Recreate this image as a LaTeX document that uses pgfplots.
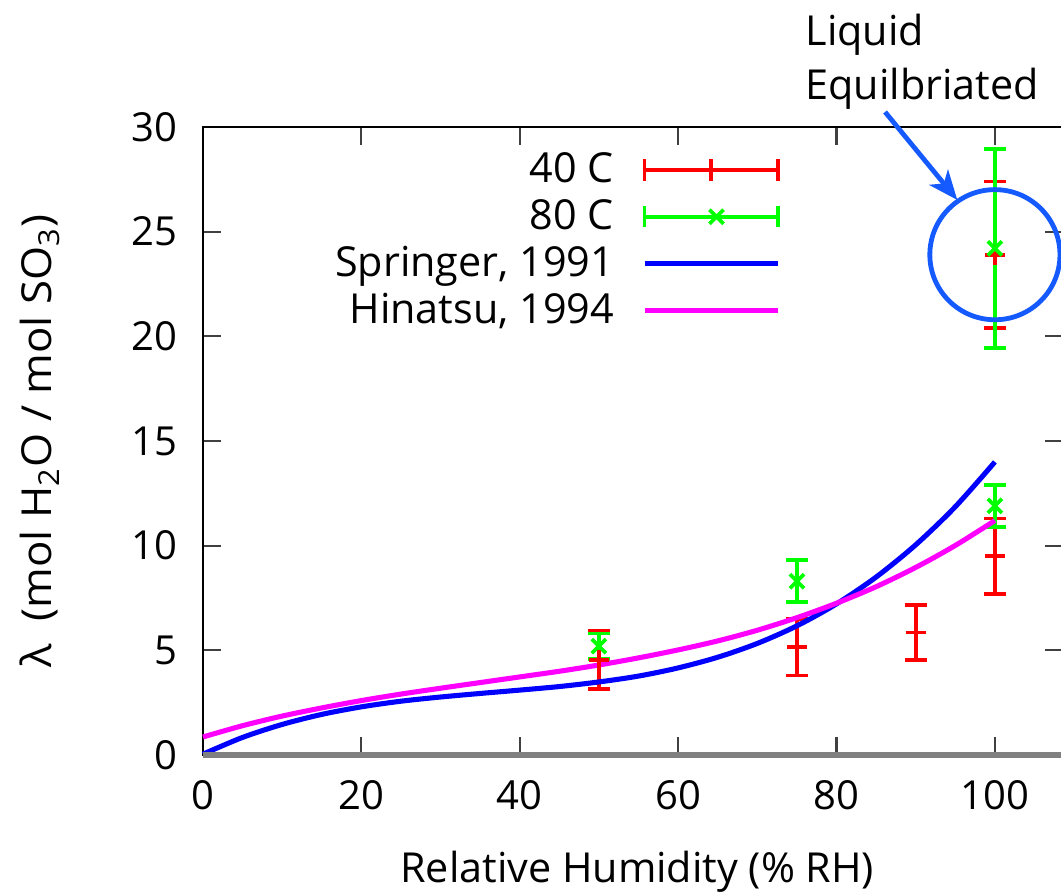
\documentclass[border=0pt]{standalone}
\usepackage{graphicx}
\usepackage{pgfplots}
\pgfplotsset{compat=1.18}
\usepackage{fontspec}
\setmainfont{Open Sans}
\usetikzlibrary{arrows.meta}
\definecolor{annot}{RGB}{20,90,255}
\definecolor{cred}{RGB}{255,0,0}
\definecolor{cgreen}{RGB}{0,255,0}
\definecolor{cblue}{RGB}{0,0,255}
\definecolor{cmag}{RGB}{255,0,255}

\pgfplotstableread{
x y e
50 4.55 1.40
75 5.15 1.35
90 5.85 1.30
100 9.5 1.80
100 23.9 3.50
}\redtab
\pgfplotstableread{
x y e
50 5.2 0.6
75 8.3 1.0
100 11.9 1.0
100 24.2 4.75
}\greentab
\pgfplotstableread{
x y
0 0.04
5 0.84
10 1.46
15 1.94
20 2.30
25 2.57
30 2.77
35 2.94
40 3.10
45 3.27
50 3.49
55 3.77
60 4.16
65 4.67
70 5.33
75 6.17
80 7.22
85 8.50
90 10.04
95 11.86
100 14.0
}\springtab
\pgfplotstableread{
x y
0 0.86
5 1.40
10 1.86
15 2.25
20 2.60
25 2.91
30 3.19
35 3.46
40 3.73
45 4.00
50 4.30
55 4.64
60 5.02
65 5.45
70 5.96
75 6.56
80 7.25
85 8.04
90 8.96
95 10.01
100 11.20
}\hintab

\begin{document}
\begin{tikzpicture}
\useasboundingbox (0pt,0pt) rectangle (397.875pt,334.5pt);
\begin{axis}[
  at={(76.125pt,51.375pt)}, anchor=south west,
  scale only axis, width=322.5pt, height=235.5pt,
  xmin=0, xmax=108.6, ymin=0, ymax=30,
  xtick={0,20,...,100}, ytick={0,5,...,30},
  axis line style={line width=1.1pt, black},
  major tick length=6.75pt,
  tick style={line width=0.8pt, black!75},
  tick align=inside,
  /pgf/number format/assume math mode=true,
  tick label style={font=\fontsize{15}{18}\selectfont},
  yticklabel style={xshift=-6pt},
  xticklabel style={yshift=-6pt},
  label style={font=\fontsize{15.5}{18}\selectfont},
  xlabel={Relative Humidity (\% RH)},
  ylabel={\scalebox{1.06}[1]{λ\ \ (mol H\textsubscript{2}O / mol SO\textsubscript{3})}},
  xlabel style={at={(axis description cs:0.505,-0.186)}, anchor=center},
  ylabel style={at={(axis description cs:-0.19,0.5)}, anchor=center},
  legend style={draw=none, fill=none, at={(axis description cs:0.672,0.968)}, anchor=north east,
    font=\fontsize{15.5}{18}\selectfont, inner sep=0pt, row sep=0.8pt, column sep=8.5pt},
  legend cell align=right,
  legend plot pos=right,
  clip=false,
]
\addplot[cred, line width=1.4pt, only marks, mark=+, mark size=3.75pt,
  legend image code/.code={
    \draw[cred, line width=1.4pt] (0pt,0pt) -- (50pt,0pt)
      (0pt,-4pt) -- (0pt,4pt) (50pt,-4pt) -- (50pt,4pt) (25pt,-4pt) -- (25pt,4pt);},
  error bars/.cd, y dir=both, y explicit,
  error bar style={line width=1.4pt, cred},
  error mark options={line width=1.4pt, cred, mark size=4.2pt, rotate=90}]
  table[x=x, y=y, y error=e] {\redtab};
\addlegendentry{40 C}
\addplot[cgreen, line width=1.4pt, only marks, mark=x, mark size=3.75pt,
  legend image code/.code={
    \draw[cgreen, line width=1.4pt] (0pt,0pt) -- (50pt,0pt)
      (0pt,-4pt) -- (0pt,4pt) (50pt,-4pt) -- (50pt,4pt);
    \draw[cgreen, line width=1.4pt, mark=x, mark size=3.75pt] plot coordinates {(27pt,0pt)};},
  error bars/.cd, y dir=both, y explicit,
  error bar style={line width=1.4pt, cgreen},
  error mark options={line width=1.4pt, cgreen, mark size=4.2pt, rotate=90}]
  table[x=x, y=y, y error=e] {\greentab};
\addlegendentry{80 C}
\addplot[cblue, line width=1.9pt, no marks, smooth,
  legend image code/.code={\draw[cblue, line width=1.9pt] (0pt,0pt) -- (50pt,0pt);}] table[x=x, y=y] {\springtab};
\addlegendentry{Springer, 1991}
\addplot[cmag, line width=1.9pt, no marks, smooth,
  legend image code/.code={\draw[cmag, line width=1.9pt] (0pt,0pt) -- (50pt,0pt);}] table[x=x, y=y] {\hintab};
\addlegendentry{Hinatsu, 1994}
\draw[annot, line width=1.8pt] (axis cs:100,23.9) circle[radius=24.4pt];
\draw[gray, line width=2pt] (rel axis cs:0,0) -- (rel axis cs:1,0);
\end{axis}
\draw[annot, line width=1.8pt, -{Stealth[length=11pt, width=9pt, inset=3pt]}] (331.9pt,292.5pt) -- (359pt,259.5pt);
\node[anchor=base west, inner sep=0pt, font=\fontsize{15.5}{18}\selectfont] at (301.9pt,317.6pt) {Liquid};
\node[anchor=base west, inner sep=0pt, font=\fontsize{15.5}{18}\selectfont] at (301.9pt,297pt) {Equilbriated};
\end{tikzpicture}
\end{document}
